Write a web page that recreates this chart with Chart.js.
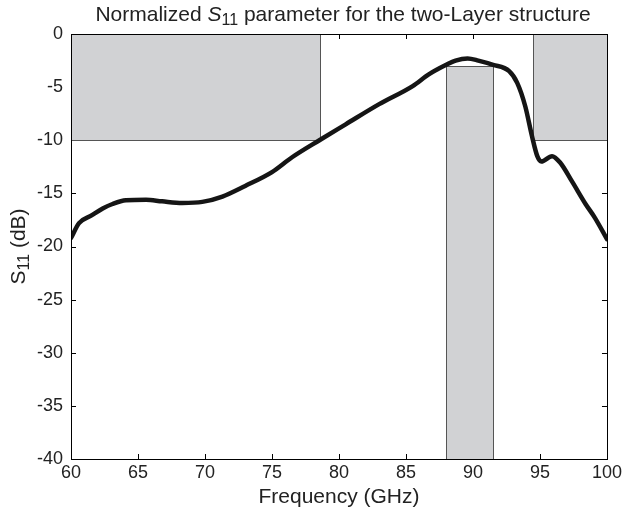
<!DOCTYPE html>
<html><head><meta charset="utf-8">
<script src="https://cdn.jsdelivr.net/npm/chart.js@4/dist/chart.umd.min.js"></script>
<style>html,body{margin:0;padding:0;background:#fff}</style>
</head><body>
<canvas id="c" width="625" height="511"></canvas>
<script>
// ---- data ----
const freqGHz = [60, 60.6, 61.5, 62.4, 63.1, 64.1, 65.6, 66.8, 68.3, 69.8, 71.3, 73.0, 75.0, 76.5, 78.6, 80.5, 83.0, 85.5, 86.7, 88.0, 88.7, 89.6, 90.4, 91.5, 92.7, 93.3, 93.9, 94.4, 94.8, 95.1, 95.9, 96.5, 97.4, 98.4, 99.1, 100];
const s11dB   = [-19.2, -17.8, -17.1, -16.4, -16.0, -15.65, -15.6, -15.75, -15.9, -15.8, -15.3, -14.3, -13.0, -11.6, -9.95, -8.5, -6.6, -4.9, -3.8, -2.9, -2.5, -2.3, -2.5, -2.9, -3.5, -4.6, -6.8, -9.6, -11.5, -12.0, -11.5, -12.1, -13.9, -16.0, -17.3, -19.3];
// shaded specification bands
const bandFreqStart = [60, 88, 94.5];
const bandFreqEnd   = [78.6, 91.5, 100];
const bandTopDB     = [0, -3, 0];
const bandBottomDB  = [-10, -40, -10];
// ticks
const xTickValues = [60, 65, 70, 75, 80, 85, 90, 95, 100];
const yTickValues = [0, -5, -10, -15, -20, -25, -30, -35, -40];

const FONT = '"Liberation Sans", Arial, Helvetica, sans-serif';

function drawRich(ctx, parts, x, y, align) {
  let total = 0;
  parts.forEach(p => { ctx.font = p.font; p.w = ctx.measureText(p.text).width; total += p.w; });
  let cx = align === 'center' ? x - total / 2 : x;
  parts.forEach(p => {
    ctx.font = p.font;
    ctx.fillText(p.text, cx, y + (p.dy || 0));
    cx += p.w;
  });
}

const deco = {
  id: 'deco',
  beforeDatasetsDraw(chart) {
    const { ctx, chartArea: a, scales: { x, y } } = chart;
    ctx.save();
    // inward tick marks on all four sides
    ctx.strokeStyle = '#000';
    ctx.lineWidth = 1;
    ctx.beginPath();
    xTickValues.forEach(v => {
      if (v <= x.min || v >= x.max) return;
      const px = Math.round(x.getPixelForValue(v)) + 0.5;
      ctx.moveTo(px, a.bottom); ctx.lineTo(px, a.bottom - 5);
      ctx.moveTo(px, a.top); ctx.lineTo(px, a.top + 5);
    });
    yTickValues.forEach(v => {
      if (v <= y.min || v >= y.max) return;
      const py = Math.round(y.getPixelForValue(v)) + 0.5;
      ctx.moveTo(a.left, py); ctx.lineTo(a.left + 5, py);
      ctx.moveTo(a.right, py); ctx.lineTo(a.right - 5, py);
    });
    ctx.stroke();
    // bands
    for (let i = 0; i < bandFreqStart.length; i++) {
      const x0 = Math.round(x.getPixelForValue(bandFreqStart[i])) + 0.5;
      const x1 = Math.round(x.getPixelForValue(bandFreqEnd[i])) + 0.5;
      const y0 = Math.round(y.getPixelForValue(bandTopDB[i])) + 0.5;
      const y1 = Math.round(y.getPixelForValue(bandBottomDB[i])) + 0.5;
      ctx.fillStyle = '#d1d2d4';
      ctx.fillRect(x0, y0, x1 - x0, y1 - y0);
      ctx.strokeStyle = '#555';
      ctx.strokeRect(x0, y0, x1 - x0, y1 - y0);
    }
    ctx.restore();
  },
  afterDatasetsDraw(chart) {
    const { ctx, chartArea: a } = chart;
    ctx.save();
    ctx.strokeStyle = '#000';
    ctx.lineWidth = 1;
    ctx.strokeRect(Math.round(a.left) + 0.5, Math.round(a.top) + 0.5,
                   Math.round(a.right - a.left), Math.round(a.bottom - a.top));
    ctx.restore();
  },
  afterDraw(chart) {
    const { ctx, chartArea: a } = chart;
    ctx.save();
    ctx.fillStyle = '#222';
    ctx.textBaseline = 'alphabetic';
    // title
    drawRich(ctx, [
      { text: 'Normalized ', font: '21px ' + FONT },
      { text: 'S', font: 'italic 21px ' + FONT },
      { text: '11', font: '16px ' + FONT, dy: 4 },
      { text: ' parameter for the two-Layer structure', font: '21px ' + FONT }
    ], 343, 21, 'center');
    // x axis label
    drawRich(ctx, [{ text: 'Frequency (GHz)', font: '21px ' + FONT }], (a.left + a.right) / 2, 503, 'center');
    // y axis label
    ctx.translate(25, (a.top + a.bottom) / 2);
    ctx.rotate(-Math.PI / 2);
    drawRich(ctx, [
      { text: 'S', font: '21px ' + FONT },
      { text: '11', font: '16px ' + FONT, dy: 4 },
      { text: ' (dB)', font: '21px ' + FONT }
    ], 0, 0, 'center');
    ctx.restore();
  }
};

const points = freqGHz.map((f, i) => ({ x: f, y: s11dB[i] }));

new Chart(document.getElementById('c'), {
  type: 'line',
  data: {
    datasets: [{
      data: points,
      borderColor: '#151515',
      borderWidth: 4.5,
      pointRadius: 0,
      fill: false,
      cubicInterpolationMode: 'monotone',
      borderCapStyle: 'round',
      borderJoinStyle: 'round'
    }]
  },
  options: {
    responsive: false,
    animation: false,
    devicePixelRatio: 1,
    layout: { padding: { top: 34, right: 16, bottom: 0, left: 0 } },
    plugins: { legend: { display: false }, tooltip: { enabled: false }, title: { display: false } },
    scales: {
      x: {
        type: 'linear', min: 60, max: 100,
        afterFit(s) { s.height = 52; },
        afterBuildTicks(s) { s.ticks = xTickValues.map(v => ({ value: v })); },
        grid: { display: false, drawTicks: false },
        border: { display: false },
        ticks: { color: '#222', font: { family: FONT, size: 18 }, padding: 3, maxRotation: 0, autoSkip: false }
      },
      y: {
        type: 'linear', min: -40, max: 0,
        afterFit(s) { s.width = 71; },
        afterBuildTicks(s) { s.ticks = yTickValues.map(v => ({ value: v })); },
        grid: { display: false, drawTicks: false },
        border: { display: false },
        ticks: { color: '#222', font: { family: FONT, size: 18 }, padding: 8, autoSkip: false }
      }
    }
  },
  plugins: [deco]
});
</script>
</body></html>
